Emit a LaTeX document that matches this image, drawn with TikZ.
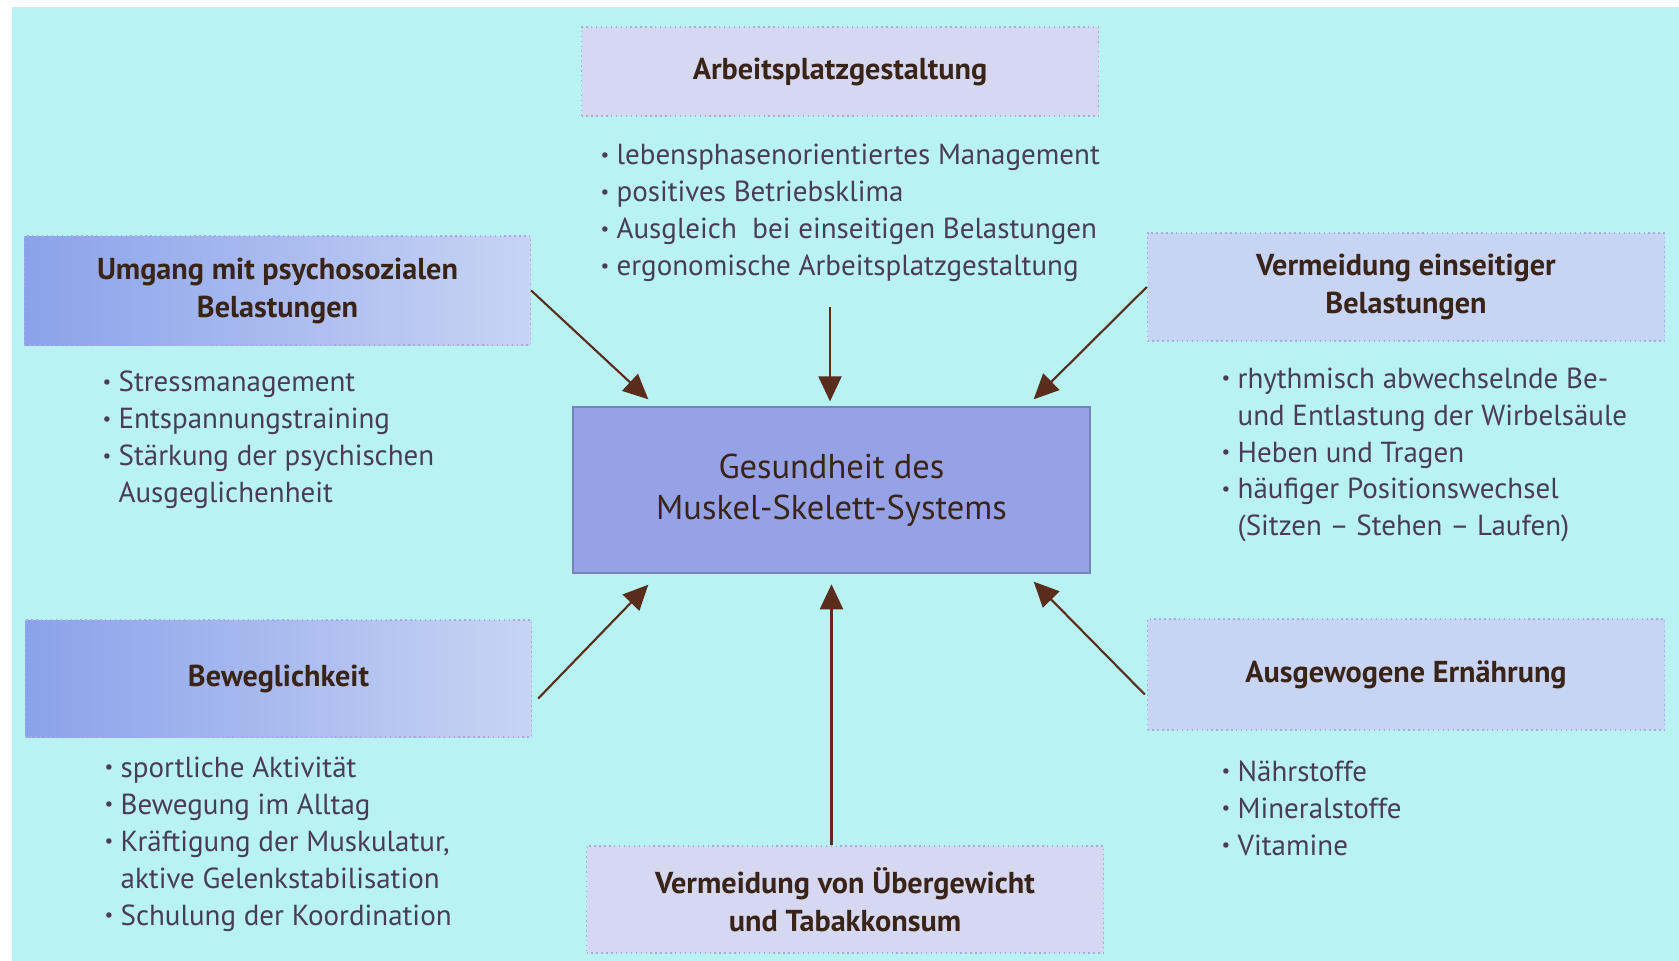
\documentclass[tikz,border=0pt]{standalone}
\usepackage{fontspec}
\setmainfont{PT Sans}
\usepackage{xcolor}
\definecolor{bgc}{HTML}{B8F2F2}
\definecolor{boxc}{HTML}{D6D8F2}
\definecolor{boxb}{HTML}{C8D4F4}
\definecolor{gradl}{HTML}{8AA2EA}
\definecolor{edgec}{HTML}{A6AADC}
\definecolor{corec}{HTML}{96A2E6}
\definecolor{titc}{HTML}{3A2418}
\definecolor{listc}{HTML}{4A3C58}
\definecolor{arrc}{HTML}{5A2C1C}
\usepackage{tikz}
\usetikzlibrary{arrows.meta,calc}
\tikzset{
  >={Triangle[length=2.5mm,width=2.3mm]},
  hbox/.style={draw=edgec,line width=0.4pt,densely dotted,fill=boxc,minimum width=51.7mm,minimum height=8.9mm,inner sep=1pt,align=center,text=titc,font=\bfseries\fontsize{8.6}{10.8}\selectfont},
  bbox/.style={hbox,fill=boxb},
  gbox/.style={hbox,minimum width=50.6mm,left color=gradl,middle color=boxb!85!gradl,right color=boxb},
  core/.style={draw=corec!80!black,line width=0.4pt,fill=corec,minimum width=51.7mm,minimum height=16.6mm,inner sep=1pt,align=center,text=titc,font=\fontsize{9.8}{11.8}\selectfont},
  list/.style={anchor=west,align=left,inner sep=0pt,text=listc,font=\fontsize{8.25}{10.5}\selectfont},
  arr/.style={->,line width=0.6pt,draw=arrc,fill=arrc},
}
\newcommand{\bul}{\makebox[0.55em][l]{\raisebox{0.12em}{\fontsize{5.5}{5.5}\selectfont\textbullet}}}
\newcommand{\ind}{\hspace*{0.55em}}
\begin{document}
\begin{tikzpicture}
  \useasboundingbox (0,0) rectangle (16.79,-9.61);
  \fill[bgc] (0.12,-0.07) rectangle (16.79,-9.61);
  % boxes
  \node[core] (G) at (8.315,-4.90) {Gesundheit des\\Muskel-Skelett-Systems};
  \node[hbox] (T) at (8.40,-0.715) {Arbeitsplatzgestaltung};
  \node[gbox,minimum height=10.9mm] (U) at (2.775,-2.905) {Umgang mit psychosozialen\\Belastungen};
  \node[bbox,minimum height=10.8mm] (V) at (14.06,-2.87) {Vermeidung einseitiger\\Belastungen};
  \node[gbox,minimum height=11.7mm] (B) at (2.785,-6.785) {Beweglichkeit};
  \node[bbox,minimum height=11.1mm] (E) at (14.06,-6.745) {Ausgewogene Ernährung};
  \node[hbox,minimum height=10.7mm] (O) at (8.45,-8.995) {Vermeidung von Übergewicht\\und Tabakkonsum};
  % lists
  \node[list] (lT) at (6.00,-2.13) {\bul lebensphasenorientiertes Management\\\bul positives Betriebsklima\\\bul Ausgleich\ \ bei einseitigen Belastungen\\\bul ergonomische Arbeitsplatzgestaltung};
  \node[list] (lU) at (1.02,-4.40) {\bul Stressmanagement\\\bul Entspannungstraining\\\bul Stärkung der psychischen\\\ind Ausgeglichenheit};
  \node[list] (lV) at (12.21,-4.55) {\bul rhythmisch abwechselnde Be-\\\ind und Entlastung der Wirbelsäule\\\bul Heben und Tragen\\\bul häufiger Positionswechsel\\\ind (Sitzen -- Stehen -- Laufen)};
  \node[list] (lB) at (1.04,-8.44) {\bul sportliche Aktivität\\\bul Bewegung im Alltag\\\bul Kräftigung der Muskulatur,\\\ind aktive Gelenkstabilisation\\\bul Schulung der Koordination};
  \node[list] (lE) at (12.21,-8.08) {\bul Nährstoffe\\\bul Mineralstoffe\\\bul Vitamine};
  % arrows
  \coordinate (tA) at (8.30,-3.07);
  \draw[arr,shorten >=1.4pt] (tA) -- (tA |- G.north);
  \draw[arr] (U.east) -- ($(G.north west)+(0.76,0.07)$);
  \draw[arr] (V.west) -- ($(G.north east)+(-0.57,0.07)$);
  \draw[arr] ($(B.east)+(0.06,-0.20)$) -- ($(G.south west)+(0.76,-0.11)$);
  \draw[arr] ($(E.west)+(-0.02,-0.20)$) -- ($(G.south east)+(-0.57,-0.08)$);
  \draw[arr,shorten >=3pt] (G.south |- O.north) -- (G.south);
\end{tikzpicture}
\end{document}
